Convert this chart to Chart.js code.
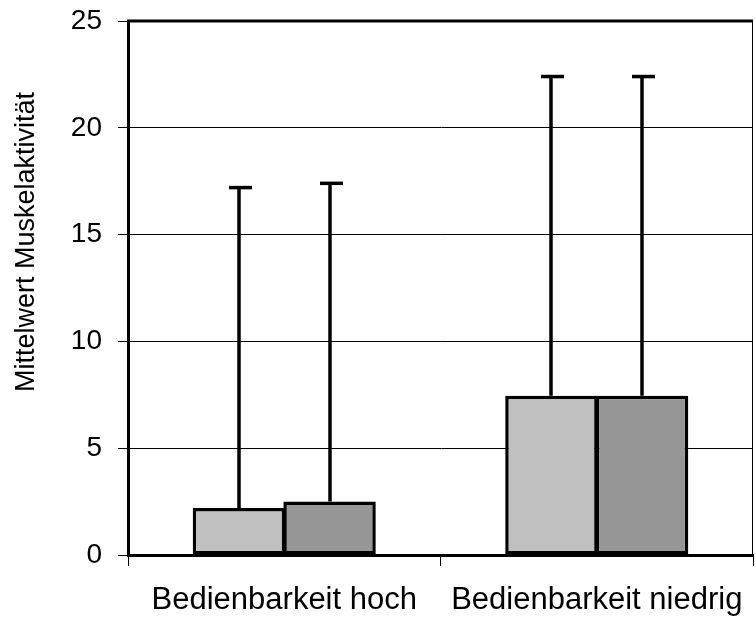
<!DOCTYPE html>
<html>
<head>
<meta charset="utf-8">
<script src="https://cdn.jsdelivr.net/npm/chart.js@4/dist/chart.umd.min.js"></script>
<style>
  html, body { margin: 0; padding: 0; background: #ffffff; }
  #wrap { width: 755px; height: 618px; position: relative; }
</style>
</head>
<body>
<div id="wrap"><canvas id="c" width="755" height="618"></canvas></div>
<script>
// ---- data ----
const categories = ["Bedienbarkeit hoch", "Bedienbarkeit niedrig"];
const meanSeriesA = [2.2, 7.45];
const meanSeriesB = [2.5, 7.45];
const upperSeriesA = [17.2, 22.4];   // top of error bar
const upperSeriesB = [17.4, 22.4];
const yTicks = [0, 5, 10, 15, 20, 25];
const yTitle = "Mittelwert Muskelaktivität";

const upperByDataset = [upperSeriesA, upperSeriesB];
const FONT = "'Liberation Sans', Arial, sans-serif";

const errorBars = {
  id: 'errorBars',
  afterDatasetsDraw(chart) {
    const ctx = chart.ctx;
    const y = chart.scales.y;
    ctx.save();
    ctx.strokeStyle = '#000';
    ctx.lineWidth = 3.5;
    chart.data.datasets.forEach((ds, i) => {
      const meta = chart.getDatasetMeta(i);
      meta.data.forEach((bar, j) => {
        const yTop = y.getPixelForValue(upperByDataset[i][j]);
        const x = Math.round(bar.x);
        ctx.beginPath();
        ctx.moveTo(x, bar.y);
        ctx.lineTo(x, yTop);
        ctx.stroke();
        ctx.beginPath();
        ctx.moveTo(x - 10, yTop);
        ctx.lineTo(x + 13, yTop);
        ctx.stroke();
      });
    });
    ctx.restore();
  }
};

const frame = {
  id: 'frame',
  afterDraw(chart) {
    const ctx = chart.ctx;
    const a = chart.chartArea;
    ctx.save();
    ctx.strokeStyle = '#000';
    ctx.lineWidth = 3;
    ctx.beginPath();
    ctx.moveTo(a.left - 1, a.top);
    ctx.lineTo(a.right, a.top);
    ctx.stroke();
    ctx.lineWidth = 1;
    ctx.beginPath();
    ctx.moveTo(a.right - 0.5, a.top);
    ctx.lineTo(a.right - 0.5, a.bottom);
    ctx.stroke();
    // y axis title
    ctx.translate(27, 242);
    ctx.rotate(-Math.PI / 2);
    ctx.fillStyle = '#000';
    ctx.font = "27px " + FONT;
    ctx.textAlign = 'center';
    ctx.textBaseline = 'middle';
    ctx.fillText(yTitle, 0, 0);
    ctx.restore();
  }
};

new Chart(document.getElementById('c'), {
  type: 'bar',
  data: {
    labels: categories,
    datasets: [
      { data: meanSeriesA, backgroundColor: '#c0c0c0', borderColor: '#000', borderWidth: 3.5, borderSkipped: false, inflateAmount: 0 },
      { data: meanSeriesB, backgroundColor: '#969696', borderColor: '#000', borderWidth: 3.5, borderSkipped: false, inflateAmount: 0 }
    ]
  },
  options: {
    responsive: false,
    animation: false,
    devicePixelRatio: 1,
    layout: { padding: { top: 21, right: 2, left: 0, bottom: 0 } },
    plugins: { legend: { display: false }, tooltip: { enabled: false }, title: { display: false } },
    datasets: { bar: { categoryPercentage: 0.58, barPercentage: 1.02 } },
    scales: {
      x: {
        offset: true,
        grid: { offset: true, drawOnChartArea: false, drawTicks: true, tickLength: 11, color: '#000', lineWidth: 1 },
        border: { color: '#000', width: 3 },
        ticks: { color: '#000', font: { family: FONT, size: 31 }, padding: 16, maxRotation: 0 },
        afterFit(scale) { scale.height = 63; scale.paddingLeft = 0; scale.paddingRight = 0; }
      },
      y: {
        min: 0, max: 25,
        afterBuildTicks(scale) { scale.ticks = yTicks.map(v => ({ value: v })); },
        grid: { color: '#000', lineWidth: 1, tickLength: 10 },
        border: { color: '#000', width: 3 },
        ticks: { color: '#000', font: { family: FONT, size: 28 }, padding: 16 },
        afterFit(scale) { scale.width = 128; scale.paddingTop = 0; scale.paddingBottom = 0; }
      }
    }
  },
  plugins: [errorBars, frame]
});
</script>
</body>
</html>
